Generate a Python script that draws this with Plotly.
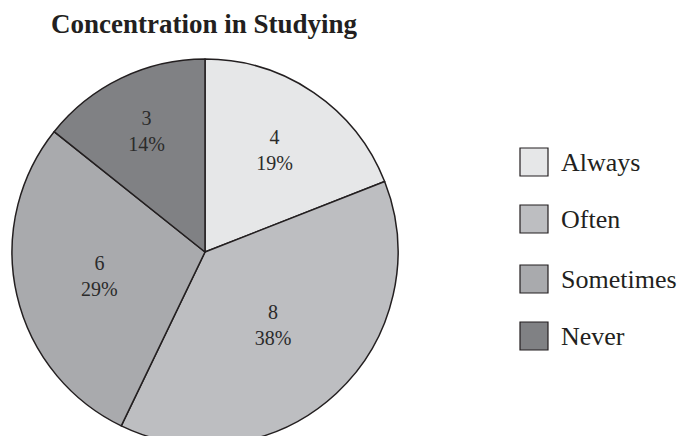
import plotly.graph_objects as go

# Survey responses: how often students concentrate while studying
categories = ["Always", "Often", "Sometimes", "Never"]
counts = [4, 8, 6, 3]
colors = ["#e6e7e8", "#bdbec1", "#a9aaad", "#808184"]

W, H = 682, 452
LINE = "#231f20"
SERIF = "Liberation Serif, Times New Roman, serif"

# pie geometry in pixels (center and radius)
cx, cy, r = 205, 252, 193

fig = go.Figure(
    go.Pie(
        labels=categories,
        values=counts,
        sort=False,
        direction="clockwise",
        rotation=0,
        marker=dict(colors=colors, line=dict(color=LINE, width=1.5)),
        texttemplate="%{value}<br>%{percent:.0%}",
        textposition="inside",
        insidetextorientation="horizontal",
        insidetextfont=dict(family=SERIF, size=20, color="#2b2b2b"),
        showlegend=False,
        hoverinfo="label+value+percent",
        domain=dict(
            x=[(cx - r) / W, (cx + r) / W],
            y=[(H - cy - r) / H, (H - cy + r) / H],
        ),
    )
)

def py(ypx):
    return (H - ypx) / H

# title
annotations = [
    dict(
        text="<b>Concentration in Studying</b>",
        x=204 / W, y=py(24), xref="paper", yref="paper",
        xanchor="center", yanchor="middle", showarrow=False,
        font=dict(family=SERIF, size=27, color="#231f20"),
    )
]

# legend: square swatches with labels
shapes = []
box = 28
box_x0 = 520
row_y = [162, 219, 279, 336]
for name, col, yc in zip(categories, colors, row_y):
    shapes.append(dict(
        type="rect", xref="paper", yref="paper",
        x0=box_x0 / W, x1=(box_x0 + box) / W,
        y0=py(yc + box / 2), y1=py(yc - box / 2),
        fillcolor=col, line=dict(color=LINE, width=1.2),
    ))
    annotations.append(dict(
        text=name, x=559 / W, y=py(yc), xref="paper", yref="paper",
        xanchor="left", yanchor="middle", showarrow=False,
        font=dict(family=SERIF, size=26, color="#231f20"),
    ))

fig.update_layout(
    width=W, height=H,
    margin=dict(l=0, r=0, t=0, b=0),
    paper_bgcolor="white",
    plot_bgcolor="white",
    annotations=annotations,
    shapes=shapes,
)

fig.write_html(
    "out.html",
    post_script="document.documentElement.style.overflow='hidden';document.body.style.overflow='hidden';",
)
